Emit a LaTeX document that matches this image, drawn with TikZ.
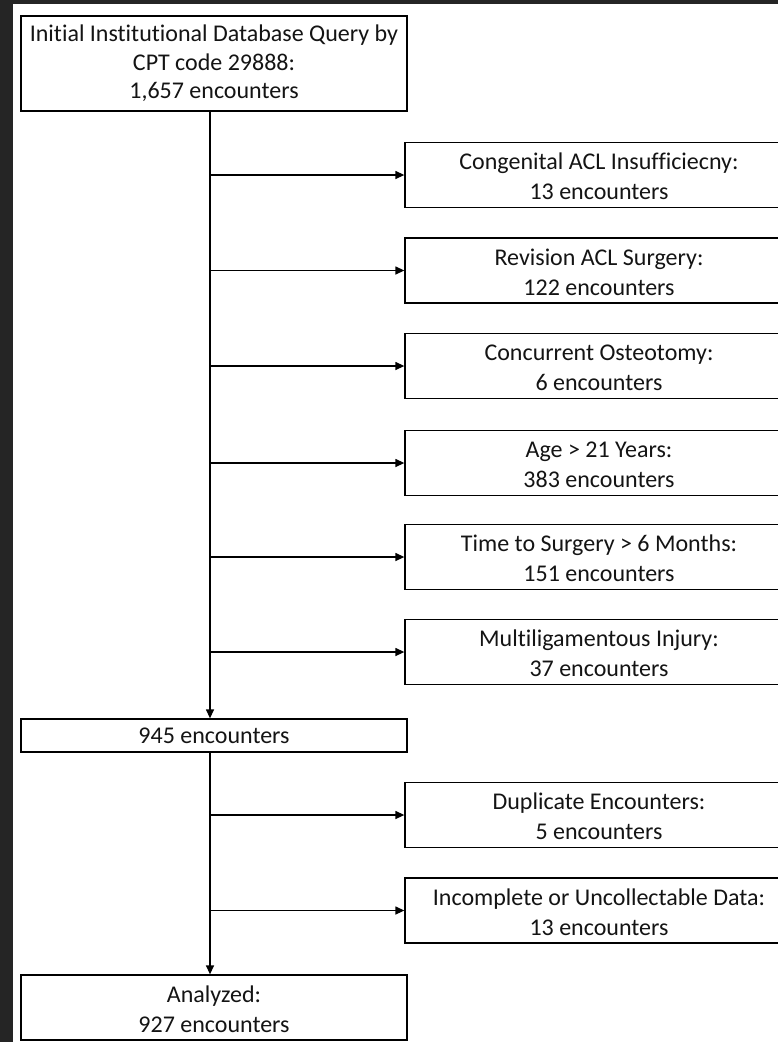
\documentclass[tikz,border=0pt]{standalone}
\usepackage{fontspec}
\setmainfont[Ligatures=NoCommon]{Carlito}
\usetikzlibrary{arrows.meta}
\definecolor{bgdark}{RGB}{37,37,37}
\definecolor{txt}{RGB}{20,20,20}
\newcommand{\tstrut}{\rule{0pt}{20pt}}
\begin{document}
\begin{tikzpicture}[x=1pt,y=-1pt,
  box/.style={draw=black, line width=1.3pt, fill=white, align=center, inner sep=0pt, text=txt,
    font=\fontsize{24}{28.5}\selectfont},
  lbox/.style={box, minimum width=386pt},
  rbox/.style={box, minimum width=388pt, minimum height=65pt, font=\fontsize{24}{30}\selectfont},
  arr/.style={line width=1.3pt, -{Triangle[length=9pt,width=8pt]}}]
\useasboundingbox (0,0) rectangle (778,1042);
\clip (0,0) rectangle (778,1042);
\fill[bgdark] (0,0) rectangle (778,1042);
\fill[white] (13,4) rectangle (778,1042);
\node[lbox, minimum height=95pt] (init) at (214,63.5) {Initial Institutional Database Query by\\CPT code 29888:\\1,657 encounters};
\node[rbox] (c1) at (599,175) {\tstrut Congenital ACL Insufficiecny:\\13 encounters};
\node[rbox] (c2) at (599,270.5) {\tstrut Revision ACL Surgery:\\122 encounters};
\node[rbox] (c3) at (599,366) {\tstrut Concurrent Osteotomy:\\6 encounters};
\node[rbox] (c4) at (599,463) {\tstrut Age > 21 Years:\\383 encounters};
\node[rbox] (c5) at (599,557) {\tstrut Time to Surgery > 6 Months:\\151 encounters};
\node[rbox] (c6) at (599,652) {\tstrut Multiligamentous Injury:\\37 encounters};
\node[lbox, minimum height=33pt] (mid) at (214,735.5) {945 encounters};
\node[rbox] (d1) at (599,815) {\tstrut Duplicate Encounters:\\5 encounters};
\node[rbox] (d2) at (599,910.5) {\tstrut Incomplete or Uncollectable Data:\\13 encounters};
\node[lbox, minimum height=65pt, font=\fontsize{24}{30}\selectfont] (an) at (214,1007.5) {\tstrut Analyzed:\\927 encounters};
\coordinate (sx) at (210,0);
\draw[arr] (init.south -| sx) -- (mid.north -| sx);
\draw[arr] (mid.south -| sx) -- (an.north -| sx);
\foreach \n in {c1,c2,c3,c4,c5,c6,d1,d2} \draw[arr] (sx |- \n.west) -- (\n.west);
\end{tikzpicture}
\end{document}
